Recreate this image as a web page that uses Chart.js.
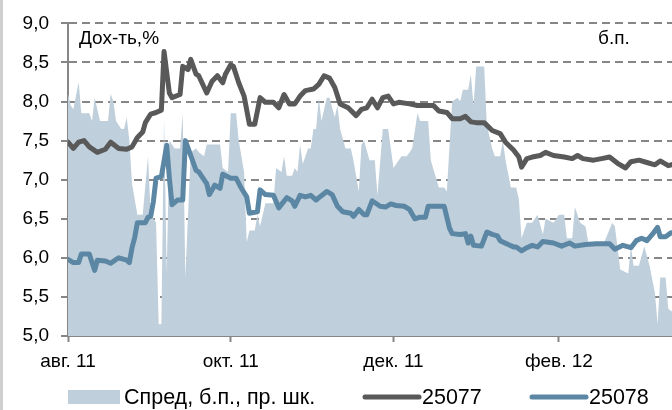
<!DOCTYPE html>
<html>
<head>
<meta charset="utf-8">
<script src="https://cdn.jsdelivr.net/npm/chart.js@4/dist/chart.umd.min.js"></script>
<style>
  html, body { margin: 0; padding: 0; background: #fff; }
  #wrap { position: relative; width: 672px; height: 410px; overflow: hidden; }
  #edge { position: absolute; left: 0; top: 0; width: 3px; height: 410px; background: #cfcfcf; }
  canvas { position: absolute; left: 0; top: 0; }
</style>
</head>
<body>
<div id="wrap">
  <canvas id="c" width="672" height="410"></canvas>
  <div id="edge"></div>
</div>
<script>
// ---- data (x = days since startDate) ----
const startDate = '2011-08-01';
const xTickDates = ['2011-08-01', '2011-10-01', '2011-12-01', '2012-02-01'];
const xTickLabels = ['авг. 11', 'окт. 11', 'дек. 11', 'фев. 12'];
const yTickLabels = ['5,0', '5,5', '6,0', '6,5', '7,0', '7,5', '8,0', '8,5', '9,0'];
const seriesNames = ['Спред, б.п., пр. шк.', '25077', '25078'];

// spread, b.p. (right scale)
const spreadDays = [0,1,2,4,5,8,9,10,12,13,15,16,17,18,20,21,22,23,24,26,28,30,31,33,34,35,36,37,38,40,42,43,44,46,48,49,51,52,54,55,57,58,60,61,63,64,66,67,68,70,71,72,74,76,77,78,80,81,82,84,85,86,87,88,90,91,92,93,94,95,97,98,100,101,102,104,106,107,109,110,111,113,115,116,118,120,122,125,127,129,131,132,135,136,139,141,142,144,146,147,148,150,151,152,153,156,157,159,160,162,163,164,166,168,169,170,172,174,176,178,179,182,184,186,187,189,190,192,194,195,198,201,204,205,207,210,211,212,214,216,218,220,221,222,224,225,227];
const spreadBp = [152,149,148,155,147,147,145,151,145,145,145,152,150,145,143,143,146,140,129,121,121,136,121,119,93,93,146,106,140,138,138,147,105,137,138,137,136,139,139,139,139,133,132,147,147,140,132,114,117,117,121,118,124,124,124,133,132,136,131,131,133,132,139,134,138,138,143,143,151,145,151,151,146,149,143,138,138,135,127,139,140,135,135,126,143,143,133,136,136,138,147,145,145,135,128,128,127,150,151,150,153,153,157,149,159,159,144,138,136,136,140,135,128,128,125,115,119,119,121,116,120,119,121,121,115,115,123,119,118,114,114,114,119,118,107,106,113,108,108,113,108,101,93,105,105,97,96];

// yield 25077, %
const days25077 = [0,2,4,6,8,11,14,16,19,22,24,26,28,29,31,33,35,36,38,39,42,43,45,46,48,49,52,54,56,58,59,61,62,64,66,68,70,72,74,77,79,81,83,85,87,89,92,94,96,98,100,102,105,108,110,112,114,116,118,120,122,124,128,131,134,137,139,142,144,147,149,151,153,156,159,162,164,167,169,170,172,174,177,179,182,186,189,191,193,197,200,203,206,209,211,214,217,220,222,225,227];
const yield25077 = [7.48,7.40,7.48,7.50,7.42,7.35,7.39,7.48,7.40,7.39,7.42,7.54,7.61,7.73,7.84,7.86,7.89,8.64,8.11,8.05,8.09,8.45,8.41,8.54,8.35,8.33,8.11,8.26,8.33,8.24,8.35,8.47,8.45,8.24,8.07,7.71,7.71,8.05,7.99,7.99,7.92,8.09,7.97,7.97,8.07,8.14,8.16,8.22,8.33,8.30,8.18,7.97,7.92,7.82,7.90,7.92,8.03,7.92,8.05,8.07,7.97,7.99,7.97,7.95,7.95,7.95,7.88,7.86,7.78,7.78,7.81,7.74,7.73,7.73,7.63,7.59,7.48,7.38,7.29,7.16,7.27,7.29,7.31,7.35,7.31,7.29,7.27,7.31,7.27,7.25,7.27,7.29,7.21,7.15,7.23,7.25,7.22,7.19,7.24,7.18,7.20];

// yield 25078, %
const days25078 = [0,2,4,5,8,9,10,11,14,16,18,19,22,23,24,25,26,29,30,31,32,33,35,37,38,39,41,43,44,46,48,49,52,53,55,57,58,61,63,65,67,68,71,72,74,77,79,82,84,85,87,89,91,93,94,97,99,101,103,106,107,109,111,112,114,117,119,121,123,126,128,130,132,134,135,138,141,143,144,147,149,150,151,152,155,157,159,161,162,165,167,168,170,172,174,176,178,182,185,188,190,194,198,203,205,208,211,213,215,217,219,221,222,224,226,227];
const yield25078 = [5.98,5.94,5.94,6.05,6.05,5.94,5.84,5.97,5.96,5.93,5.98,6.00,5.97,5.94,6.13,6.26,6.45,6.45,6.52,6.53,6.72,7.02,7.04,7.44,7.02,6.68,6.74,6.74,7.50,7.31,7.12,7.10,6.95,6.81,6.93,6.89,7.07,7.02,7.02,6.89,6.78,6.57,6.59,6.87,6.81,6.80,6.64,6.77,6.73,6.66,6.80,6.78,6.80,6.74,6.77,6.85,6.81,6.66,6.59,6.57,6.53,6.62,6.55,6.55,6.73,6.66,6.65,6.69,6.67,6.66,6.62,6.50,6.52,6.52,6.66,6.66,6.66,6.38,6.31,6.30,6.31,6.19,6.28,6.16,6.15,6.33,6.30,6.28,6.22,6.17,6.14,6.14,6.09,6.13,6.16,6.14,6.21,6.19,6.15,6.19,6.15,6.17,6.18,6.18,6.11,6.16,6.13,6.22,6.25,6.22,6.30,6.39,6.27,6.27,6.32,6.32];

// ---- helpers ----
const DAY = 86400000;
function dayIndex(s) { return Math.round((Date.parse(s) - Date.parse(startDate)) / DAY); }
function pts(xs, ys) { return xs.map((x, i) => ({ x: x, y: ys[i] })); }
const xTickDays = xTickDates.map(dayIndex);

const FONT = '"Liberation Sans", Arial, sans-serif';
const AXIS = '#868686';
const C_AREA = '#bfcfdb';
const C_77 = '#595959';
const C_78 = '#5b87a4';

const overlay = {
  id: 'overlay',
  afterDraw(chart) {
    const ctx = chart.ctx;
    ctx.save();
    ctx.fillStyle = '#000';
    ctx.font = '19px ' + FONT;
    ctx.textBaseline = 'alphabetic';
    ctx.textAlign = 'left';
    ctx.fillText('Дох-ть,%', 79, 44);
    ctx.fillText('б.п.', 598, 44);

    // legend
    const ly = 397;
    const itemStarts = [68, 363, 530];
    ctx.font = '21.5px ' + FONT;
    ctx.textBaseline = 'middle';
    chart.data.datasets.forEach((ds, i) => {
      let x = itemStarts[i];
      if (ds.fill) {
        ctx.fillStyle = ds.backgroundColor;
        ctx.fillRect(x, ly - 7, 52, 14);
        x += 56;
      } else {
        ctx.strokeStyle = ds.borderColor;
        ctx.lineWidth = ds.borderWidth;
        ctx.lineCap = 'round';
        ctx.beginPath();
        ctx.moveTo(x + 2, ly);
        ctx.lineTo(x + 56, ly);
        ctx.stroke();
        x += 59;
      }
      ctx.fillStyle = '#000';
      ctx.fillText(ds.label, x, ly + 1);
    });
    ctx.restore();
  }
};

new Chart(document.getElementById('c'), {
  type: 'line',
  data: {
    datasets: [
      {
        label: seriesNames[0],
        data: pts(spreadDays, spreadBp),
        yAxisID: 'y1',
        fill: 'start',
        backgroundColor: C_AREA,
        borderWidth: 0,
        pointRadius: 0,
        tension: 0,
        order: 3
      },
      {
        label: seriesNames[1],
        data: pts(days25077, yield25077),
        yAxisID: 'y',
        fill: false,
        borderColor: C_77,
        borderWidth: 5,
        borderJoinStyle: 'round',
        borderCapStyle: 'round',
        pointRadius: 0,
        tension: 0,
        order: 2
      },
      {
        label: seriesNames[2],
        data: pts(days25078, yield25078),
        yAxisID: 'y',
        fill: false,
        borderColor: C_78,
        borderWidth: 5,
        borderJoinStyle: 'round',
        borderCapStyle: 'round',
        pointRadius: 0,
        tension: 0,
        order: 1
      }
    ]
  },
  options: {
    responsive: false,
    animation: false,
    layout: { padding: { top: 20, left: 0, right: 0, bottom: 0 } },
    plugins: { legend: { display: false }, tooltip: { enabled: false } },
    scales: {
      x: {
        type: 'linear',
        min: 0,
        max: 226.4,
        afterBuildTicks: (s) => { s.ticks = xTickDays.map(v => ({ value: v })); },
        afterFit: (s) => { s.height = 74; },
        ticks: {
          autoSkip: false,
          maxRotation: 0,
          padding: 8,
          color: '#000',
          font: { family: FONT, size: 19 },
          callback: (v, i) => xTickLabels[i]
        },
        grid: { display: true, drawOnChartArea: false, drawTicks: true, tickLength: 6, tickColor: AXIS, tickWidth: 2 },
        border: { display: true, color: AXIS, width: 2 }
      },
      y: {
        position: 'left',
        min: 5,
        max: 9,
        afterFit: (s) => { s.width = 68; },
        ticks: {
          stepSize: 0.5,
          padding: 12,
          color: '#000',
          font: { family: FONT, size: 19 },
          callback: (v, i) => yTickLabels[i]
        },
        grid: { color: AXIS, lineWidth: 2, tickLength: 7, tickColor: AXIS, tickWidth: 2 },
        border: { display: true, color: AXIS, width: 2, dash: [8, 5] }
      },
      y1: {
        position: 'right',
        display: false,
        min: 90,
        max: 170
      }
    }
  },
  plugins: [overlay]
});
</script>
</body>
</html>
